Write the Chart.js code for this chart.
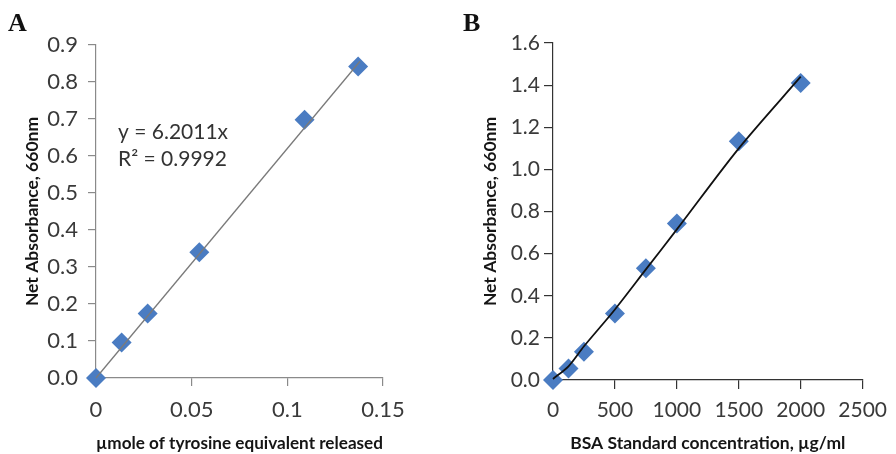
<!DOCTYPE html>
<html>
<head>
<meta charset="utf-8">
<script src="https://cdn.jsdelivr.net/npm/chart.js@4.4.0/dist/chart.umd.min.js"></script>
<style>
  html, body { margin: 0; padding: 0; background: #fff; }
  #wrap { position: relative; width: 896px; height: 454px; overflow: hidden; }
  .panel { position: absolute; top: 0; width: 448px; height: 454px; }
  .letter { position: absolute; top: 8px; font: bold 26px "Liberation Serif", "DejaVu Serif", serif; color: #111; }
</style>
</head>
<body>
<div id="wrap">
  <div class="panel" style="left:0"><canvas id="chartA" width="448" height="454"></canvas></div>
  <div class="panel" style="left:448px"><canvas id="chartB" width="448" height="454"></canvas></div>
  <div class="letter" style="left:8px">A</div>
  <div class="letter" style="left:463px">B</div>
</div>
<script>
// Panel A: tyrosine standard
const tyrosineUmol = [0, 0.0134, 0.027, 0.054, 0.109, 0.137];
const absorbanceA = [0, 0.096, 0.174, 0.34, 0.698, 0.842];
const fitAx = [0, 0.138];
const fitAy = [0, 0.856];
const equationA = ["y = 6.2011x", "R\u00b2 = 0.9992"];

// Panel B: BSA standard
const bsaConc = [0, 125, 250, 500, 750, 1000, 1500, 2000];
const absorbanceB = [0, 0.055, 0.134, 0.316, 0.53, 0.743, 1.134, 1.41];
const fitBy = [0.005, 0.065, 0.16, 0.335, 0.525, 0.715, 1.1, 1.44];

const BLUE = '#4a7cc2';
const TICK_COLOR = '#3a3a3a';

function pts(xs, ys) {
  return xs.map((x, i) => ({ x: x, y: ys[i] }));
}

// writes the regression text next to the line (panel A only)
const equationPlugin = {
  id: 'equation',
  afterDatasetsDraw(chart) {
    const ctx = chart.ctx;
    const x = chart.scales.x.getPixelForValue(0.0115);
    const y0 = chart.scales.y.getPixelForValue(0.664);
    ctx.save();
    ctx.font = '21px Lato';
    ctx.fillStyle = '#333';
    ctx.textBaseline = 'middle';
    equationA.forEach((t, i) => ctx.fillText(t, x, y0 + i * 27));
    ctx.restore();
  }
};

function axis(opts) {
  return {
    type: 'linear',
    min: opts.min,
    max: opts.max,
    border: { color: opts.lineColor, width: 1.2 },
    grid: {
      drawOnChartArea: false,
      drawTicks: true,
      tickLength: opts.tickLen,
      color: opts.lineColor,
      lineWidth: 1.2
    },
    ticks: {
      stepSize: opts.step,
      padding: opts.pad,
      color: TICK_COLOR,
      font: { family: 'Lato', size: opts.fontSize },
      maxRotation: 0,
      autoSkip: false,
      callback: opts.fmt
    },
    title: {
      display: true,
      text: opts.title,
      color: '#151515',
      font: { family: 'Lato', size: 17.5, weight: 'bold' },
      padding: opts.titlePad
    },
    afterFit: opts.fit
  };
}

new Chart(document.getElementById('chartA'), {
  type: 'scatter',
  data: {
    datasets: [
      {
        data: pts(fitAx, fitAy),
        showLine: true,
        borderColor: '#7a7a7a',
        borderWidth: 1.3,
        pointRadius: 0,
        clip: false,
        order: 0
      },
      {
        data: pts(tyrosineUmol, absorbanceA),
        pointStyle: 'rectRot',
        pointRadius: 10,
        backgroundColor: BLUE,
        borderColor: BLUE,
        borderWidth: 0,
        clip: false,
        order: 1
      }
    ]
  },
  options: {
    responsive: false,
    animation: false,
    layout: { padding: { left: 0, top: 45, right: 65, bottom: 0 } },
    plugins: { legend: { display: false }, tooltip: { enabled: false } },
    scales: {
      x: axis({
        min: 0, max: 0.15, step: 0.05, lineColor: '#8a8a8a', tickLen: 8, pad: 11, fontSize: 22,
        fmt: v => String(Math.round(v * 100) / 100),
        title: '\u00b5mole of tyrosine equivalent released',
        titlePad: { top: 0, bottom: 0.5 },
        fit: s => { s.height = 76; }
      }),
      y: axis({
        min: 0, max: 0.9, step: 0.1, lineColor: '#8a8a8a', tickLen: 8, pad: 10, fontSize: 22,
        fmt: v => v.toFixed(1),
        title: 'Net Absorbance, 660nm',
        titlePad: { top: 21.5, bottom: 0 },
        fit: s => { s.width = 96; }
      })
    }
  },
  plugins: [equationPlugin]
});

new Chart(document.getElementById('chartB'), {
  type: 'scatter',
  data: {
    datasets: [
      {
        data: pts(bsaConc, fitBy),
        showLine: true,
        borderColor: '#111',
        borderWidth: 1.8,
        pointRadius: 0,
        tension: 0.3,
        clip: false,
        order: 0
      },
      {
        data: pts(bsaConc, absorbanceB),
        pointStyle: 'rectRot',
        pointRadius: 10,
        backgroundColor: BLUE,
        borderColor: BLUE,
        borderWidth: 0,
        clip: false,
        order: 1
      }
    ]
  },
  options: {
    responsive: false,
    animation: false,
    layout: { padding: { left: 0, top: 43, right: 26, bottom: 0 } },
    plugins: { legend: { display: false }, tooltip: { enabled: false } },
    scales: {
      x: axis({
        min: 0, max: 2500, step: 500, lineColor: '#333', tickLen: 9, pad: 9, fontSize: 21,
        fmt: v => String(v),
        title: 'BSA Standard concentration, \u00b5g/ml',
        titlePad: { top: 0, bottom: 0 },
        fit: s => { s.height = 74; }
      }),
      y: axis({
        min: 0, max: 1.6, step: 0.2, lineColor: '#333', tickLen: 9, pad: 4, fontSize: 21,
        fmt: v => v.toFixed(1),
        title: 'Net Absorbance, 660nm',
        titlePad: { top: 31.5, bottom: 0 },
        fit: s => { s.width = 105; }
      })
    }
  }
});
</script>
</body>
</html>
